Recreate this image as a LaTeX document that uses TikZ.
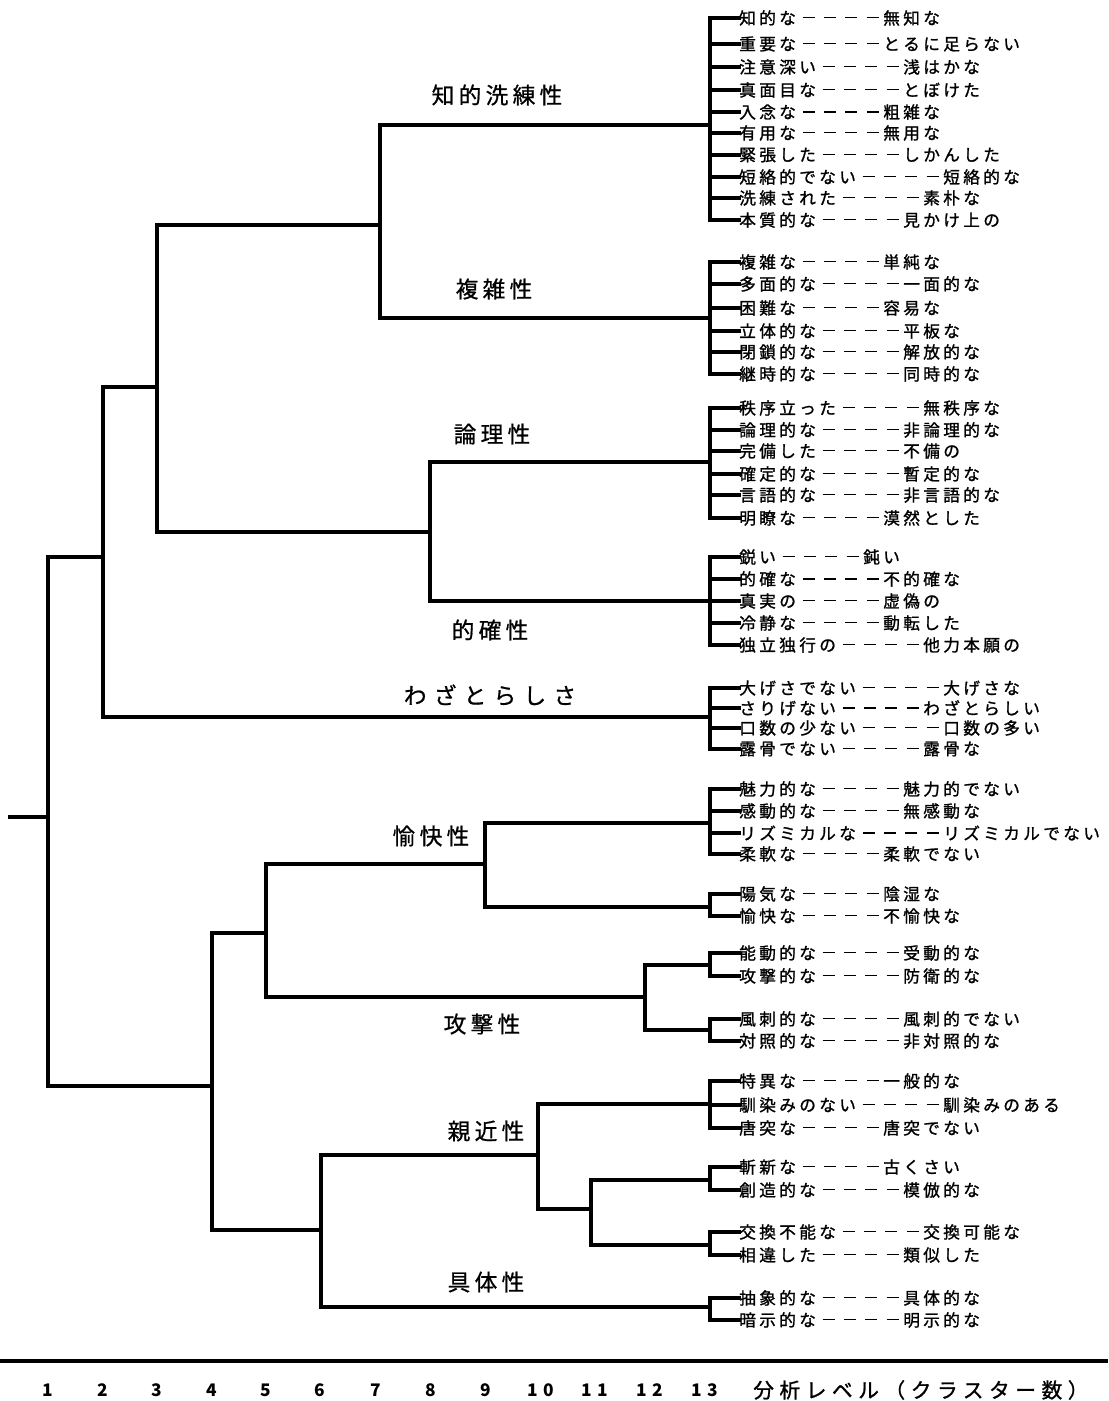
\documentclass[tikz,border=0pt]{standalone}
\usepackage{fontspec}
\newfontfamily\jpleaf[LetterSpace=20,FakeBold=1.2]{Noto Sans CJK JP}
\newfontfamily\jpclus[LetterSpace=19,FakeBold=0.8]{Noto Sans CJK JP}
\newfontfamily\jpwide[LetterSpace=32,FakeBold=0.8]{Noto Sans CJK JP}
\newfontfamily\jpaxis[LetterSpace=27,FakeBold=1.2]{Noto Sans CJK JP}
\newfontfamily\jpnum{Noto Sans CJK JP}
\newcommand\dsh{\makebox[16pt]{\rule[4.4pt]{9pt}{1pt}}}
\newcommand\dashes{\kern1.5pt\dsh\dsh\dsh\dsh}
\tikzset{
  leaf/.style={anchor=west, inner sep=0pt, font=\jpleaf\fontsize{12.5pt}{14pt}\selectfont},
  clus/.style={inner sep=0pt, font=\jpclus\fontsize{17pt}{19pt}\selectfont},
  cluswide/.style={inner sep=0pt, font=\jpwide\fontsize{17pt}{19pt}\selectfont},
  axnum/.style={inner sep=0pt, font=\jpnum\bfseries\fontsize{13pt}{15pt}\selectfont},
  axtitle/.style={anchor=west, inner sep=0pt, font=\jpaxis\fontsize{15.5pt}{17pt}\selectfont},
  tree/.style={line width=2.6pt, line cap=rect},
  tick/.style={line width=3pt, line cap=rect},
}
\newcommand\lf[4]{%
  \node[leaf] (#1) at (739,#2) {#3\dashes#4};
  \draw[tick] (710,#2) -- (#1.west);
}
\begin{document}
\begin{tikzpicture}[x=0.75pt,y=-0.75pt]
\useasboundingbox (0,0) rectangle (1108,1401);
\fill[white] (0,0) rectangle (1108,1401);

% ---- leaves: 知的洗練性
\lf{a1}{18}{知的な}{無知な}
\lf{a2}{44}{重要な}{とるに足らない}
\lf{a3}{67}{注意深い}{浅はかな}
\lf{a4}{90}{真面目な}{とぼけた}
\lf{a5}{112}{入念な}{粗雑な}
\lf{a6}{133}{有用な}{無用な}
\lf{a7}{155}{緊張した}{しかんした}
\lf{a8}{177}{短絡的でない}{短絡的な}
\lf{a9}{198}{洗練された}{素朴な}
\lf{a10}{220}{本質的な}{見かけ上の}
\draw[tick] (710,18) -- (710,220);
\coordinate (c1) at (710,125);

% ---- 複雑性
\lf{b1}{262}{複雑な}{単純な}
\lf{b2}{284}{多面的な}{一面的な}
\lf{b3}{308}{困難な}{容易な}
\lf{b4}{331}{立体的な}{平板な}
\lf{b5}{352}{閉鎖的な}{解放的な}
\lf{b6}{374}{継時的な}{同時的な}
\draw[tick] (710,262) -- (710,374);
\coordinate (c2) at (710,318);

% ---- 論理性
\lf{d1}{408}{秩序立った}{無秩序な}
\lf{d2}{430}{論理的な}{非論理的な}
\lf{d3}{451}{完備した}{不備の}
\lf{d4}{474}{確定的な}{暫定的な}
\lf{d5}{495}{言語的な}{非言語的な}
\lf{d6}{518}{明瞭な}{漠然とした}
\draw[tick] (710,408) -- (710,518);
\coordinate (c3) at (710,462);

% ---- 的確性
\lf{e1}{557}{鋭い}{鈍い}
\lf{e2}{579}{的確な}{不的確な}
\lf{e3}{601}{真実の}{虚偽の}
\lf{e4}{623}{冷静な}{動転した}
\lf{e5}{645}{独立独行の}{他力本願の}
\draw[tick] (710,557) -- (710,645);
\coordinate (c4) at (710,601);

% ---- わざとらしさ
\lf{f1}{688}{大げさでない}{大げさな}
\lf{f2}{708}{さりげない}{わざとらしい}
\lf{f3}{728}{口数の少ない}{口数の多い}
\lf{f4}{749}{露骨でない}{露骨な}
\draw[tick] (710,688) -- (710,749);
\coordinate (c5) at (710,717);

% ---- 愉快性
\lf{g1}{789}{魅力的な}{魅力的でない}
\lf{g2}{811}{感動的な}{無感動な}
\lf{g3}{833}{リズミカルな}{リズミカルでない}
\lf{g4}{854}{柔軟な}{柔軟でない}
\draw[tick] (710,789) -- (710,854);
\coordinate (c6) at (710,823);
\lf{h1}{894}{陽気な}{陰湿な}
\lf{h2}{916}{愉快な}{不愉快な}
\draw[tick] (710,894) -- (710,916);
\coordinate (c7) at (710,907);

% ---- 攻撃性
\lf{i1}{953}{能動的な}{受動的な}
\lf{i2}{976}{攻撃的な}{防衛的な}
\draw[tick] (710,953) -- (710,976);
\coordinate (c8) at (710,965);
\lf{j1}{1019}{風刺的な}{風刺的でない}
\lf{j2}{1041}{対照的な}{非対照的な}
\draw[tick] (710,1019) -- (710,1041);
\coordinate (c9) at (710,1030);

% ---- 親近性
\lf{k1}{1081}{特異な}{一般的な}
\lf{k2}{1105}{馴染みのない}{馴染みのある}
\lf{k3}{1128}{唐突な}{唐突でない}
\draw[tick] (710,1081) -- (710,1128);
\coordinate (c10) at (710,1104);
\lf{l1}{1167}{斬新な}{古くさい}
\lf{l2}{1190}{創造的な}{模倣的な}
\draw[tick] (710,1167) -- (710,1190);
\coordinate (c11) at (710,1180);
\lf{m1l}{1232}{交換不能な}{交換可能な}
\lf{m2l}{1255}{相違した}{類似した}
\draw[tick] (710,1232) -- (710,1255);
\coordinate (c12) at (710,1245);

% ---- 具体性
\lf{n1}{1298}{抽象的な}{具体的な}
\lf{n2}{1320}{暗示的な}{明示的な}
\draw[tick] (710,1298) -- (710,1320);
\coordinate (c13) at (710,1307);

% ---- merge points
\coordinate (m7) at (380,225);
\coordinate (m8) at (430,532);
\coordinate (m3) at (157,387);
\coordinate (m2) at (103,557);
\coordinate (m9) at (485,864);
\coordinate (m12) at (645,997);
\coordinate (m5) at (266,933);
\coordinate (m11) at (591,1209);
\coordinate (m10) at (538,1155);
\coordinate (m6) at (321,1230);
\coordinate (m4) at (212,1086);
\coordinate (m1) at (48,817);
\coordinate (root) at (10,817);

\draw[tree] (c1) -| (m7) |- (c2);
\draw[tree] (c3) -| (m8) |- (c4);
\draw[tree] (m7) -| (m3) |- (m8);
\draw[tree] (m3) -| (m2) |- (c5);
\draw[tree] (m2) -| (m1) |- (m4);
\draw[tree] (root) -- (m1);
\draw[tree] (c6) -| (m9) |- (c7);
\draw[tree] (c8) -| (m12) |- (c9);
\draw[tree] (m9) -| (m5) |- (m12);
\draw[tree] (c11) -| (m11) |- (c12);
\draw[tree] (c10) -| (m10) |- (m11);
\draw[tree] (m10) -| (m6) |- (c13);
\draw[tree] (m5) -| (m4) |- (m6);

% ---- cluster labels
\node[clus] (t1) at (497,95) {知的洗練性};
\node[clus] (t2) at (494,289) {複雑性};
\node[clus] (t3) at (492,434) {論理性};
\node[clus] (t4) at (490,630) {的確性};
\node[cluswide] (t5) at (490,695) {わざとらしさ};
\node[clus] (t6) at (431,836) {愉快性};
\node[clus] (t7) at (482,1024) {攻撃性};
\node[clus] (t8) at (486,1131) {親近性};
\node[clus] (t9) at (486,1282) {具体性};

% ---- axis
\coordinate (axl) at (0,1361);
\coordinate (axr) at (1108,1361);
\draw[line width=3.6pt] (axl) -- (axr);
\node[axnum] (n1) at (48,1390) {1};
\node[axnum] (n2) at (103,1390) {2};
\node[axnum] (n3) at (157,1390) {3};
\node[axnum] (n4) at (212,1390) {4};
\node[axnum] (n5) at (266,1390) {5};
\node[axnum] (n6) at (320,1390) {6};
\node[axnum] (n7) at (376,1390) {7};
\node[axnum] (n8) at (431,1390) {8};
\node[axnum] (n9) at (486,1390) {9};
\node[axnum] (n10) at (541,1390) {1\hspace{4pt}0};
\node[axnum] (n11) at (595,1390) {1\hspace{4pt}1};
\node[axnum] (n12) at (650,1390) {1\hspace{4pt}2};
\node[axnum] (n13) at (705,1390) {1\hspace{4pt}3};
\node[axtitle] (ax) at (753,1390) {分析レベル（クラスター数）};
\end{tikzpicture}
\end{document}
